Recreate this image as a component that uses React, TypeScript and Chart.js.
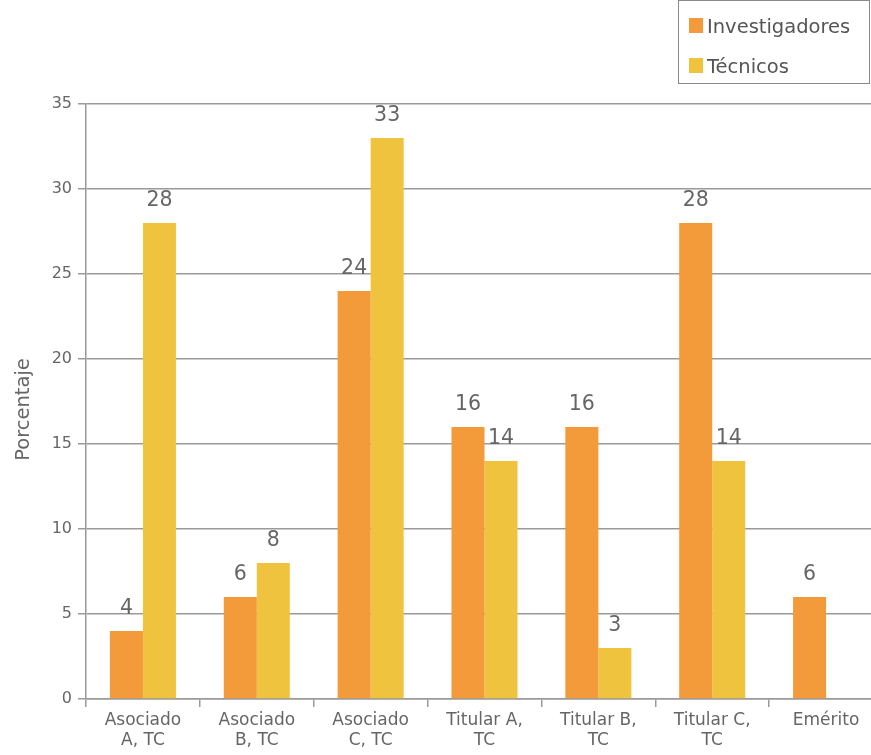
import React, { useEffect, useRef } from "react";
import { Chart, registerables } from "chart.js";

Chart.register(...registerables);

const categories: string[][] = [
  ["Asociado", "A, TC"],
  ["Asociado", "B, TC"],
  ["Asociado", "C, TC"],
  ["Titular A,", "TC"],
  ["Titular B,", "TC"],
  ["Titular C,", "TC"],
  ["Emérito"],
];
const seriesNames = ["Investigadores", "Técnicos"];
const investigadores: (number | null)[] = [4, 6, 24, 16, 16, 28, 6];
const tecnicos: (number | null)[] = [28, 8, 33, 14, 3, 14, null];
const seriesColors = ["#F39A3A", "#F0C33F"];
const yTitle = "Porcentaje";

const FONT = "'DejaVu Sans', Verdana, sans-serif";
const TEXT = "#666666";
const GRID = "#9a9a9a";

const customPlugin = {
  id: "customDecor",
  afterDatasetsDraw(chart: any) {
    const ctx = chart.ctx;
    ctx.save();
    ctx.font = `20.5px ${FONT}`;
    ctx.fillStyle = TEXT;
    ctx.textAlign = "center";
    ctx.textBaseline = "alphabetic";
    chart.data.datasets.forEach((ds: any, i: number) => {
      const meta = chart.getDatasetMeta(i);
      meta.data.forEach((bar: any, j: number) => {
        const v = ds.data[j];
        if (v === null || v === undefined) return;
        ctx.fillText(String(v), bar.x, bar.y - 17);
      });
    });
    ctx.restore();
  },
  afterDraw(chart: any) {
    const ctx = chart.ctx;
    const area = chart.chartArea;
    ctx.save();
    ctx.font = `19.5px ${FONT}`;
    ctx.fillStyle = TEXT;
    ctx.textAlign = "center";
    ctx.textBaseline = "middle";
    ctx.translate(24, (area.top + area.bottom) / 2 + 8);
    ctx.rotate(-Math.PI / 2);
    ctx.fillText(yTitle, 0, 0);
    ctx.restore();

    ctx.save();
    ctx.strokeStyle = "#8a8a8a";
    ctx.lineWidth = 1;
    ctx.strokeRect(678.5, 0.5, 191, 83);
    ctx.font = `19.5px ${FONT}`;
    ctx.textAlign = "left";
    ctx.textBaseline = "alphabetic";
    chart.data.datasets.forEach((ds: any, i: number) => {
      const y = 18 + i * 40;
      ctx.fillStyle = ds.backgroundColor;
      ctx.fillRect(689, y, 14, 15);
      ctx.fillStyle = "#555555";
      ctx.fillText(ds.label, 707, y + 15);
    });
    ctx.restore();
  },
};

export default function App() {
  const canvasRef = useRef<HTMLCanvasElement | null>(null);

  useEffect(() => {
    if (!canvasRef.current) return;
    const chart = new Chart(canvasRef.current, {
      type: "bar",
      data: {
        labels: categories,
        datasets: [
          { label: seriesNames[0], data: investigadores, backgroundColor: seriesColors[0] },
          { label: seriesNames[1], data: tecnicos, backgroundColor: seriesColors[1] },
        ],
      },
      options: {
        animation: false,
        responsive: false,
        maintainAspectRatio: false,
        layout: { padding: { left: 0, right: 17, top: 104, bottom: 0 } },
        datasets: {
          bar: { categoryPercentage: 0.58, barPercentage: 1.0 },
        },
        plugins: {
          legend: { display: false },
          tooltip: { enabled: false },
        },
        scales: {
          x: {
            grid: {
              display: true,
              drawOnChartArea: false,
              drawTicks: true,
              tickLength: 8,
              color: GRID,
              lineWidth: 1.5,
              offset: true,
            },
            border: { display: true, color: GRID, width: 1.5 },
            ticks: {
              color: TEXT,
              font: { family: FONT, size: 17 },
              padding: 3,
              maxRotation: 0,
              autoSkip: false,
            },
            afterFit(scale: any) {
              scale.height = 56;
            },
          },
          y: {
            min: 0,
            max: 35,
            ticks: {
              stepSize: 5,
              color: TEXT,
              font: { family: FONT, size: 16 },
              padding: 6,
            },
            grid: { color: GRID, tickLength: 8, lineWidth: 1.5 },
            border: { display: true, color: GRID, width: 1.5 },
            afterFit(scale: any) {
              scale.width = 86;
            },
          },
        },
      },
      plugins: [customPlugin],
    });
    return () => chart.destroy();
  }, []);

  return (
    <div
      style={{
        position: "absolute",
        left: 0,
        top: 0,
        width: 871,
        height: 755,
        overflow: "hidden",
        background: "#ffffff",
      }}
    >
      <canvas ref={canvasRef} width={900} height={755} style={{ width: 900, height: 755, display: "block" }} />
    </div>
  );
}
